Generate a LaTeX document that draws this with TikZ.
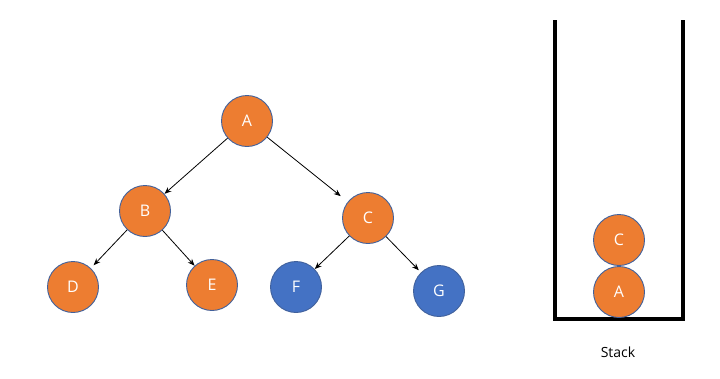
\documentclass[tikz,border=0pt]{standalone}
\usepackage{fontspec}
\setmainfont{Open Sans}
\usetikzlibrary{arrows.meta}
\definecolor{nodeorange}{HTML}{ED7D31}
\definecolor{nodeblue}{HTML}{4472C4}
\definecolor{nodeedge}{HTML}{41619C}
\tikzset{
  tnode/.style={circle, draw=nodeedge, line width=0.9pt, minimum size=51pt, inner sep=0pt, text=white, font=\fontsize{16}{19}\selectfont},
  orangenode/.style={tnode, fill=nodeorange},
  bluenode/.style={tnode, fill=nodeblue},
  edgearrow/.style={-{Stealth[length=7pt,width=5.5pt]}, line width=0.8pt, black},
  wall/.style={line width=4pt, black}
}
\begin{document}
\begin{tikzpicture}[x=1pt,y=-1pt]
\useasboundingbox (0,0) rectangle (720,378);
\node[orangenode] (A) at (247,121) {A};
\node[orangenode] (B) at (145,211) {B};
\node[orangenode] (C) at (368,218) {C};
\node[orangenode] (D) at (73,287) {D};
\node[orangenode] (E) at (212,285) {E};
\node[bluenode] (F) at (296,287) {F};
\node[bluenode] (G) at (439,291) {G};
\draw[edgearrow] (A) -- (B);
\draw[edgearrow, shorten >=9pt] (A) -- (C);
\draw[edgearrow, shorten >=4pt] (B) -- (D);
\draw[edgearrow] (B) -- (E);
\draw[edgearrow] (C) -- (F);
\draw[edgearrow, shorten >=3pt] (C) -- (G);
% stack
\coordinate (TL) at (555,20);
\coordinate (BL) at (555,319);
\coordinate (BR) at (683,319);
\coordinate (TR) at (683,20);
\draw[wall] (TL) -- (BL) -- (BR) -- (TR);
\node[orangenode] (SC) at (619,240) {C};
\node[orangenode] (SA) at (619,292) {A};
\node[font=\fontsize{14}{17}\selectfont, text=black] (label) at (618,352) {Stack};
\end{tikzpicture}
\end{document}
